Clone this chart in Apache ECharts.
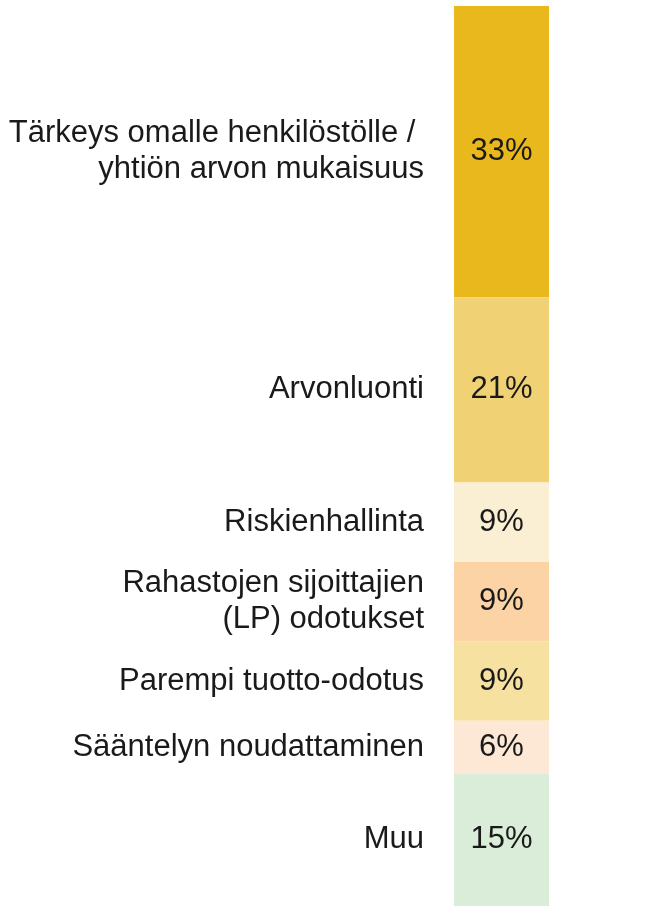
<!DOCTYPE html>
<html>
<head>
<meta charset="utf-8">
<script src="https://cdn.jsdelivr.net/npm/echarts@6/dist/echarts.min.js"></script>
<style>
  html, body { margin: 0; padding: 0; background: #fff; }
  #chart-container { width: 671px; height: 906px; }
</style>
</head>
<body>
<div id="chart-container"></div>
<script>
var dom = document.getElementById("chart-container");
var myChart = echarts.init(dom, null, { renderer: "canvas" });

// reasons, top to bottom
var categories = [
  "Tärkeys omalle henkilöstölle / \nyhtiön arvon mukaisuus",
  "Arvonluonti",
  "Riskienhallinta",
  "Rahastojen sijoittajien\n(LP) odotukset",
  "Parempi tuotto-odotus",
  "Sääntelyn noudattaminen",
  "Muu"
];
var values = [33, 21, 9, 9, 9, 6, 15];
var colors = ["#e9b81d", "#f0d275", "#faefd2", "#fcd3a5", "#f7e1a1", "#fce8d5", "#d9edd8"];

var total = values.reduce(function (a, b) { return a + b; }, 0);
var textColor = "#1a1a1a";
var fontFamily = "'Liberation Sans', Arial, sans-serif";

var series = [];
values.forEach(function (v, i) {
  // coloured segment with percentage
  series.push({
    type: "bar",
    stack: "bar",
    xAxisIndex: 0,
    yAxisIndex: 0,
    barWidth: "100%",
    data: [v],
    itemStyle: { color: colors[i] },
    label: {
      show: true,
      position: "inside",
      formatter: v + "%",
      color: textColor,
      fontSize: 31,
      fontFamily: fontFamily
    },
    silent: true
  });
  // invisible twin that carries the category text
  series.push({
    type: "bar",
    stack: "names",
    xAxisIndex: 1,
    yAxisIndex: 1,
    barWidth: "100%",
    data: [v],
    itemStyle: { color: "rgba(0,0,0,0)" },
    label: {
      show: true,
      position: "insideRight",
      distance: 0,
      formatter: categories[i],
      align: "right",
      color: textColor,
      fontSize: 31,
      lineHeight: 36,
      fontFamily: fontFamily
    },
    silent: true
  });
});

var option = {
  animation: false,
  grid: [
    { left: 454, width: 95, top: 6, bottom: 0 },
    { left: 0, width: 424, top: 6, bottom: 0 }
  ],
  xAxis: [
    { type: "category", gridIndex: 0, data: [""], show: false },
    { type: "category", gridIndex: 1, data: [""], show: false }
  ],
  yAxis: [
    { type: "value", gridIndex: 0, min: 0, max: total, inverse: true, show: false },
    { type: "value", gridIndex: 1, min: 0, max: total, inverse: true, show: false }
  ],
  series: series
};

myChart.setOption(option);
window.addEventListener("resize", myChart.resize);
</script>
</body>
</html>
